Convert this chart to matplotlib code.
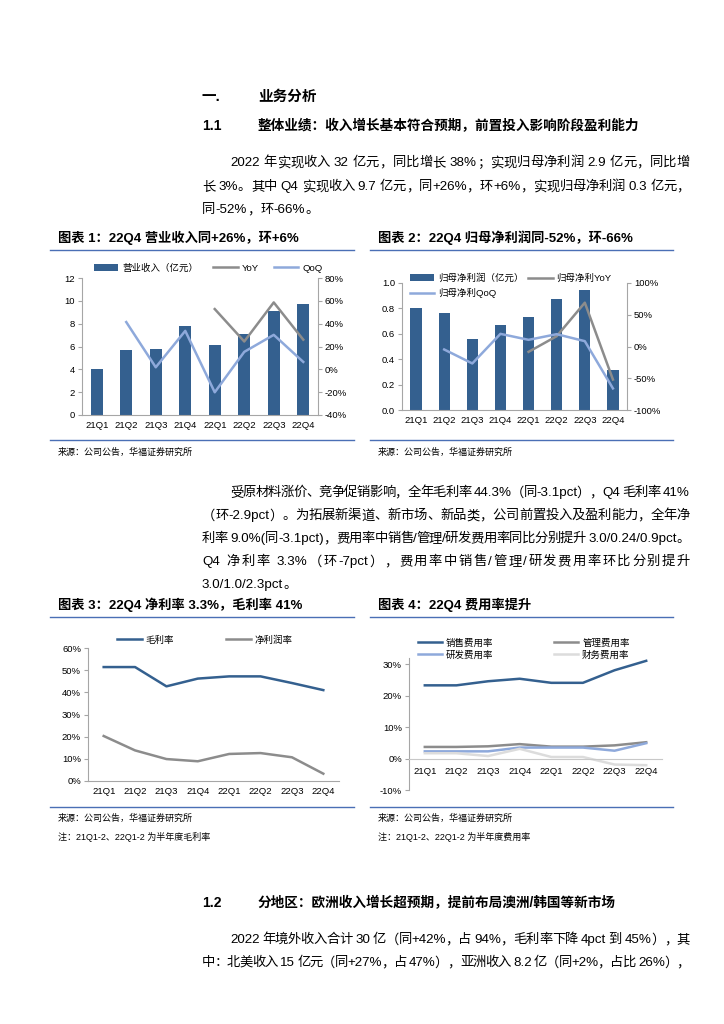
import re
import numpy as np
import matplotlib
matplotlib.use("Agg")
import matplotlib.pyplot as plt
from matplotlib.lines import Line2D
from matplotlib.ticker import FuncFormatter

plt.rcParams['font.family'] = ['Liberation Sans', 'Noto Sans CJK SC', 'DejaVu Sans']

W, H = 724, 1024

quarters = ['21Q1', '21Q2', '21Q3', '21Q4', '22Q1', '22Q2', '22Q3', '22Q4']
nan = np.nan

# chart 1: revenue (100m yuan) and growth (%)
revenue = [4.04, 5.68, 5.79, 7.76, 6.15, 7.08, 9.13, 9.75]
revenue_yoy = [nan, nan, nan, nan, 52.8, 24.4, 58.6, 26.0]
revenue_qoq = [nan, 41.4, 1.8, 33.7, -20.1, 15.3, 30.2, 6.5]

# chart 2: net profit attributable to parent (100m yuan) and growth (%)
profit = [0.804, 0.764, 0.558, 0.668, 0.736, 0.872, 0.945, 0.317]
profit_yoy = [nan, nan, nan, nan, -8.4, 16.2, 69.0, -52.0]
profit_qoq = [nan, -4.7, -26.7, 19.9, 10.5, 19.4, 8.4, -66.0]

# chart 3: margins (%)
gross_margin = [51.4, 51.4, 42.7, 46.2, 47.2, 47.2, 44.2, 41.0]
net_margin = [20.3, 13.8, 9.9, 8.9, 12.2, 12.6, 10.7, 3.3]

# chart 4: expense ratios (%)
sales_ratio = [23.3, 23.3, 24.6, 25.4, 24.1, 24.1, 28.1, 31.1]
admin_ratio = [3.7, 3.7, 3.9, 4.6, 3.8, 3.8, 4.2, 5.2]
rd_ratio = [2.3, 2.3, 2.3, 3.5, 3.5, 3.5, 2.5, 4.9]
fin_ratio = [1.7, 1.7, 0.8, 3.1, 0.5, 0.5, -1.9, -2.1]

DARK = '#34608F'
GRAY = '#8C8C8C'
LIGHT = '#8EA9DB'
PALE = '#DCDCDC'
RULE = '#4A6FB5'
SPINE = '#A6A6A6'
RIGHT_EDGE = 690

fig = plt.figure(figsize=(W / 100, H / 100), dpi=100)
renderer = fig.canvas.get_renderer()


def fx(x):
    return x / W


def fy(y):
    return 1 - y / H


def txt(x, y, s, size=10.5, weight='normal', **kw):
    return fig.text(fx(x), fy(y), s, fontsize=size, fontweight=weight, va='center', ha='left', **kw)


def body_line(x0, y, s, size=9.6, justify=True):
    # place tokens one by one and spread them to the right margin
    tokens = re.findall(r'[\x21-\x7e]+| |[^\x21-\x7e ]', s)
    items = []
    total = 0
    for t in tokens:
        t_obj = txt(x0, y, t, size)
        w = t_obj.get_window_extent(renderer).width
        items.append((t_obj, w))
        total += w
    gap = 0
    if justify and len(items) > 1:
        gap = (RIGHT_EDGE - x0 - total) / (len(items) - 1)
    cur = x0
    for t_obj, w in items:
        t_obj.set_x(fx(cur))
        cur += w + gap


def rule(x0, x1, y, color=RULE, lw=1.0):
    fig.add_artist(Line2D([fx(x0), fx(x1)], [fy(y), fy(y)], transform=fig.transFigure, color=color, lw=lw))


def add_ax(x0, y0, x1, y1):
    return fig.add_axes([fx(x0), fy(y1), (x1 - x0) / W, (y1 - y0) / H])


def pct(v, pos):
    return '{:.0f}%'.format(v)


def style(ax, tick=6.8):
    for s in ['top', 'right']:
        ax.spines[s].set_visible(False)
    for s in ['left', 'bottom']:
        ax.spines[s].set_color(SPINE)
        ax.spines[s].set_linewidth(0.8)
    ax.tick_params(axis='y', labelsize=tick, length=3, color=SPINE, pad=2)
    ax.tick_params(axis='x', labelsize=tick, length=0, pad=4)


def style_right(ax):
    for s in ['top', 'left', 'bottom']:
        ax.spines[s].set_visible(False)
    ax.spines['right'].set_color(SPINE)
    ax.spines['right'].set_linewidth(0.8)
    ax.tick_params(axis='y', labelsize=6.8, length=3, color=SPINE, pad=2)


# ---- page text ----
txt(202, 97, '一.', 10.5, 'bold')
txt(258, 97, '业务分析', 10.5, 'bold')
txt(202, 126, '1.1', 10, 'bold')
txt(258, 126, '整体业绩：收入增长基本符合预期，前置投入影响阶段盈利能力', 9.8, 'bold')

para1 = [
    (230, 163, '2022 年实现收入 32 亿元，同比增长 38%；实现归母净利润 2.9 亿元，同比增', True),
    (202, 187, '长 3%。其中 Q4 实现收入 9.7 亿元，同+26%，环+6%，实现归母净利润 0.3 亿元，', True),
    (202, 210, '同-52%，环-66%。', False),
]
para2 = [
    (230, 493, '受原材料涨价、竞争促销影响，全年毛利率 44.3%（同-3.1pct），Q4 毛利率 41%', True),
    (202, 516, '（环-2.9pct）。为拓展新渠道、新市场、新品类，公司前置投入及盈利能力，全年净', True),
    (202, 539, '利率 9.0%(同-3.1pct)，费用率中销售/管理/研发费用率同比分别提升 3.0/0.24/0.9pct。', True),
    (202, 562, 'Q4 净利率 3.3%（环-7pct），费用率中销售/管理/研发费用率环比分别提升', True),
    (202, 585, '3.0/1.0/2.3pct。', False),
]
para3 = [
    (230, 940, '2022 年境外收入合计 30 亿（同+42%，占 94%，毛利率下降 4pct 到 45%），其', True),
    (202, 963, '中：北美收入 15 亿元（同+27%，占 47%），亚洲收入 8.2 亿（同+2%，占比 26%），', True),
]
for x0, y, s, j in para1 + para2 + para3:
    body_line(x0, y, s, justify=j)

txt(202, 903, '1.2', 10, 'bold')
txt(258, 903, '分地区：欧洲收入增长超预期，提前布局澳洲/韩国等新市场', 9.8, 'bold')

# ---- chart titles, rules, sources ----
txt(58, 238, '图表 1：22Q4 营业收入同+26%，环+6%', 9.5, 'bold')
txt(378, 238, '图表 2：22Q4 归母净利润同-52%，环-66%', 9.5, 'bold')
txt(58, 605, '图表 3：22Q4 净利率 3.3%，毛利率 41%', 9.5, 'bold')
txt(378, 605, '图表 4：22Q4 费用率提升', 9.5, 'bold')
for yy in [250, 440, 617, 807]:
    rule(50, 354, yy)
    rule(370, 673, yy)
src = '来源：公司公告，华福证券研究所'
txt(58, 452, src, 6.5)
txt(378, 452, src, 6.5)
txt(58, 818, src, 6.5)
txt(378, 818, src, 6.5)
txt(58, 837, '注：21Q1-2、22Q1-2 为半年度毛利率', 6.5)
txt(378, 837, '注：21Q1-2、22Q1-2 为半年度费用率', 6.5)

x = np.arange(len(quarters))

# ---- chart 1 ----
ax1 = add_ax(82, 278, 318, 415)
style(ax1)
b1 = ax1.bar(x, revenue, width=0.4, color=DARK, zorder=2)
ax1.set_xlim(-0.5, 7.5)
ax1.set_ylim(0, 12)
ax1.set_yticks(np.arange(0, 13, 2))
ax1.set_xticks(x)
ax1.set_xticklabels(quarters)
ax1r = ax1.twinx()
ax1r.set_ylim(-40, 80)
ax1r.set_yticks(np.arange(-40, 81, 20))
ax1r.yaxis.set_major_formatter(FuncFormatter(pct))
style_right(ax1r)
l1, = ax1r.plot(x, revenue_yoy, color=GRAY, lw=1.8)
l2, = ax1r.plot(x, revenue_qoq, color=LIGHT, lw=1.8)
fig.legend([b1, l1, l2], ['营业收入（亿元）', 'YoY', 'QoQ'], loc='center',
           bbox_to_anchor=(fx(208), fy(268)), ncol=3, frameon=False, fontsize=6.8,
           handlelength=2.6, handleheight=0.8, columnspacing=1.6, handletextpad=0.4)

# ---- chart 2 ----
ax2 = add_ax(402, 283, 627, 410)
style(ax2)
b2 = ax2.bar(x, profit, width=0.4, color=DARK, zorder=2)
ax2.set_xlim(-0.5, 7.5)
ax2.set_ylim(0, 1.0)
ax2.set_yticks(np.arange(0, 1.01, 0.2))
ax2.yaxis.set_major_formatter(FuncFormatter(lambda v, p: '{:.1f}'.format(v)))
ax2.set_xticks(x)
ax2.set_xticklabels(quarters)
ax2r = ax2.twinx()
ax2r.set_ylim(-100, 100)
ax2r.set_yticks(np.arange(-100, 101, 50))
ax2r.yaxis.set_major_formatter(FuncFormatter(pct))
style_right(ax2r)
m1, = ax2r.plot(x, profit_yoy, color=GRAY, lw=1.8)
m2, = ax2r.plot(x, profit_qoq, color=LIGHT, lw=1.8)
fig.legend([b2, m2, m1], ['归母净利润（亿元）', '归母净利QoQ', '归母净利YoY'], loc='upper left',
           bbox_to_anchor=(fx(401), fy(265)), ncol=2, frameon=False, fontsize=6.8,
           handlelength=2.6, handleheight=0.8, columnspacing=0.5, handletextpad=0.4,
           labelspacing=0.55)

# ---- chart 3 ----
ax3 = add_ax(88, 648, 339, 781)
style(ax3)
n1, = ax3.plot(x, gross_margin, color=DARK, lw=1.8)
n2, = ax3.plot(x, net_margin, color=GRAY, lw=1.8)
ax3.set_xlim(-0.5, 7.5)
ax3.set_ylim(0, 60)
ax3.set_yticks(np.arange(0, 61, 10))
ax3.yaxis.set_major_formatter(FuncFormatter(pct))
ax3.set_xticks(x)
ax3.set_xticklabels(quarters)
fig.legend([n1, n2], ['毛利率', '净利润率'], loc='center',
           bbox_to_anchor=(fx(205), fy(640)), ncol=2, frameon=False, fontsize=6.8,
           handlelength=2.6, columnspacing=5.5, handletextpad=0.4)

# ---- chart 4 ----
ax4 = add_ax(409, 658, 662, 790)
style(ax4)
p1, = ax4.plot(x, sales_ratio, color=DARK, lw=1.8)
p2, = ax4.plot(x, admin_ratio, color=GRAY, lw=1.8)
p3, = ax4.plot(x, rd_ratio, color=LIGHT, lw=1.8)
p4, = ax4.plot(x, fin_ratio, color=PALE, lw=1.8)
ax4.set_xlim(-0.5, 7.5)
ax4.set_ylim(-10, 32)
ax4.set_yticks(np.arange(-10, 31, 10))
ax4.yaxis.set_major_formatter(FuncFormatter(pct))
ax4.spines['bottom'].set_position(('data', 0))
ax4.spines['bottom'].set_color('#C8C8C8')
ax4.tick_params(axis='x', pad=6)
ax4.set_xticks(x)
ax4.set_xticklabels(quarters)
fig.legend([p1, p3, p2, p4], ['销售费用率', '研发费用率', '管理费用率', '财务费用率'], loc='upper left',
           bbox_to_anchor=(fx(409), fy(630)), ncol=2, frameon=False, fontsize=6.8,
           handlelength=2.6, columnspacing=6.4, handletextpad=0.4, labelspacing=0.3)

fig.savefig('out.png', dpi=100)
